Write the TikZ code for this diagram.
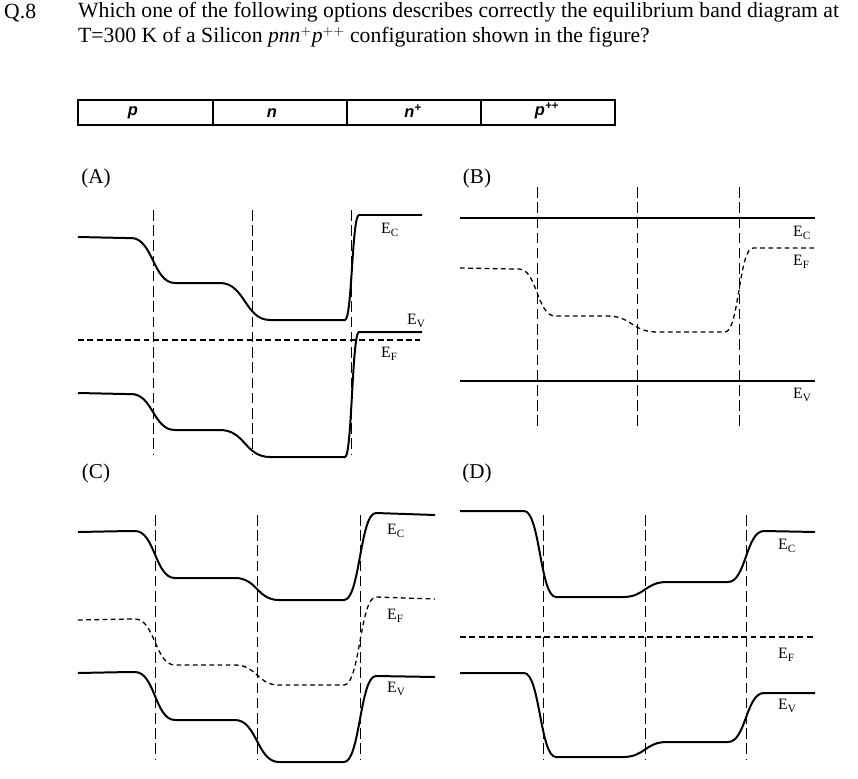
\documentclass[tikz,border=0pt]{standalone}
\usepackage{fontspec}
\setmainfont{Liberation Serif}
\setsansfont{Liberation Sans}
\tikzset{
  band/.style={line width=1.7pt},
  fermi/.style={dash pattern=on 5pt off 3pt, line width=1.9pt},
  qfermi/.style={dash pattern=on 4pt off 3pt, line width=1.1pt},
  bound/.style={dash pattern=on 9pt off 4pt, line width=0.6pt},
  lbl/.style={font=\fontsize{13.5}{15}\selectfont, anchor=west, inner sep=0pt},
  tag/.style={font=\fontsize{18}{20}\selectfont},
  region/.style={font=\sffamily\bfseries\itshape\fontsize{14}{16}\selectfont}
}
% one smoothed band step inside a path
\newcommand\bstep[4]{-- (#1-#2,#3) .. controls (#1,#3) and (#1,#4) .. (#1+#2,#4)}
\begin{document}
\begin{tikzpicture}[x=0.03cm, y=-0.03cm]
  \useasboundingbox (0,0) rectangle (858,779);
  \node[anchor=west, font=\fontsize{18.5}{21.5}\selectfont, inner sep=0pt] (q) at (4,13) {Q.8};
  \node[anchor=north west, font=\fontsize{18.5}{21.5}\selectfont, inner sep=0pt, align=left] (qt) at (78,2)
    {Which one of the following options describes correctly the equilibrium band diagram at\\
     T=300 K of a Silicon \textit{pnn}$^{+}$\textit{p}$^{++}$ configuration shown in the figure?};

  % device
  \draw[line width=1.7pt] (78,100) rectangle (615,125);
  \foreach \x in {213,347,481} \draw[line width=1.7pt] (\x,100) -- (\x,125);
  \node[region] (rp) at (133,113) {p};
  \node[region] (rn) at (272,113) {n};
  \node[region] (rnp) at (413,111) {n\textsuperscript{+}};
  \node[region] (rpp) at (547,111) {p\textsuperscript{++}};

  % (A)
  \node[tag] (la) at (96,178) {(A)};
  \foreach \x in {153,252,351} \draw[bound] (\x,210) -- (\x,455);
  \draw[band] (78,237) -- (125,238) \bstep{153}{22}{238}{283} \bstep{245}{25}{283}{320} \bstep{352}{7}{320}{215} -- (422,215);
  \draw[fermi] (78,340) -- (420,340);
  \draw[band] (78,393) -- (125,394) \bstep{153}{22}{394}{430} \bstep{245}{25}{430}{457} \bstep{352}{7}{457}{332} -- (422,332);
  \node[lbl] (eca) at (381,230) {E\textsubscript{C}};
  \node[lbl] (eva) at (407,321) {E\textsubscript{V}};
  \node[lbl] (efa) at (381,354) {E\textsubscript{F}};

  % (B)
  \node[tag] (lb) at (477,178) {(B)};
  \foreach \x in {537,637,739} \draw[bound] (\x,187) -- (\x,428);
  \draw[band] (460,218) -- (815,218);
  \draw[qfermi] (460,268) -- (515,269) \bstep{537}{18}{269}{316} \bstep{632}{25}{316}{332} \bstep{739}{14}{332}{248} -- (815,248);
  \draw[band] (460,381) -- (815,381);
  \node[lbl] (ecb) at (793,233) {E\textsubscript{C}};
  \node[lbl] (efb) at (793,262) {E\textsubscript{F}};
  \node[lbl] (evb) at (793,395) {E\textsubscript{V}};

  % (C)
  \node[tag] (lc) at (96,473) {(C)};
  \foreach \x in {155,257,360} \draw[bound] (\x,515) -- (\x,760);
  \draw[band] (78,532) -- (130,531) \bstep{155}{20}{531}{578} \bstep{257}{22}{578}{600} \bstep{360}{16}{600}{513} -- (435,515);
  \draw[qfermi] (78,620) -- (130,619) \bstep{155}{20}{619}{665} \bstep{257}{22}{665}{685} \bstep{360}{16}{685}{597} -- (435,599);
  \draw[band] (78,673) -- (130,672) \bstep{155}{20}{672}{720} \bstep{257}{22}{720}{762} \bstep{360}{16}{762}{676} -- (435,677);
  \node[lbl] (ecc) at (387,531) {E\textsubscript{C}};
  \node[lbl] (efc) at (387,616) {E\textsubscript{F}};
  \node[lbl] (evc) at (387,689) {E\textsubscript{V}};

  % (D)
  \node[tag] (ld) at (477,473) {(D)};
  \foreach \x in {543,645,746} \draw[bound] (\x,515) -- (\x,760);
  \draw[band] (460,511) -- (520,511) \bstep{540}{16}{511}{597} \bstep{645}{22}{597}{582} \bstep{746}{18}{582}{531} -- (815,532);
  \draw[fermi] (460,637) -- (815,637);
  \draw[band] (460,673) -- (520,673) \bstep{540}{16}{673}{757} \bstep{645}{22}{757}{742} \bstep{746}{18}{742}{693} -- (815,693);
  \node[lbl] (ecd) at (778,546) {E\textsubscript{C}};
  \node[lbl] (efd) at (778,655) {E\textsubscript{F}};
  \node[lbl] (evd) at (778,706) {E\textsubscript{V}};
\end{tikzpicture}
\end{document}
